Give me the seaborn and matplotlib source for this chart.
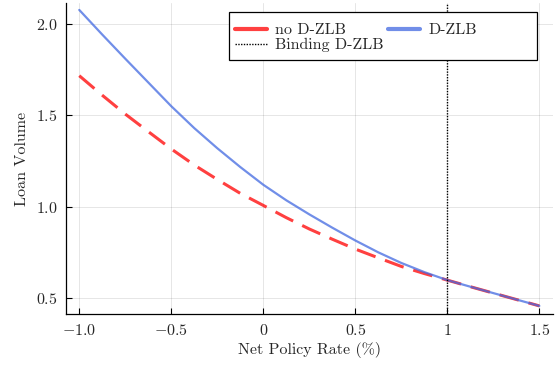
import numpy as np
import pandas as pd
import matplotlib
matplotlib.use("Agg")
import matplotlib.pyplot as plt
from matplotlib.lines import Line2D
from matplotlib.patches import Rectangle
import seaborn as sns

# Net policy rate grid (%)
rate = [-1.0, -0.875, -0.75, -0.625, -0.5, -0.375, -0.25, -0.125, 0.0,
        0.125, 0.25, 0.375, 0.5, 0.625, 0.75, 0.875, 1.0,
        1.125, 1.25, 1.375, 1.5]
# Loan volume without the deposit zero lower bound
loans_no_dzlb = [1.717, 1.610, 1.507, 1.411, 1.316, 1.228, 1.149, 1.073, 1.007,
                 0.940, 0.878, 0.822, 0.768, 0.720, 0.673, 0.634, 0.598,
                 0.562, 0.527, 0.492, 0.457]
# Loan volume with the deposit zero lower bound
loans_dzlb = [2.077, 1.942, 1.810, 1.680, 1.550, 1.430, 1.320, 1.217, 1.120,
              1.035, 0.958, 0.885, 0.815, 0.750, 0.692, 0.642, 0.598,
              0.562, 0.527, 0.492, 0.457]
# Rate at which the D-ZLB starts to bind
binding_rate = 1.0

x_ticks = [-1.0, -0.5, 0.0, 0.5, 1.0, 1.5]
x_tick_labels = ["$-1.0$", "$-0.5$", "$0$", "$0.5$", "$1$", "$1.5$"]
y_ticks = [0.5, 1.0, 1.5, 2.0]
y_tick_labels = ["$0.5$", "$1.0$", "$1.5$", "$2.0$"]

df_no = pd.DataFrame({"rate": rate, "loans": loans_no_dzlb})
df_d = pd.DataFrame({"rate": rate, "loans": loans_dzlb})

sns.set_theme(style="ticks")
plt.rcParams["font.family"] = ["cmr10", "DejaVu Sans"]
plt.rcParams["mathtext.fontset"] = "cm"
plt.rcParams["axes.unicode_minus"] = False

fs = 11.5

fig = plt.figure(figsize=(5.58, 3.65), dpi=100)
ax = fig.add_axes([0.1183, 0.1384, 0.8727, 0.8534])

red = "red"
blue = "royalblue"

sns.lineplot(data=df_no, x="rate", y="loans", ax=ax, color=red, alpha=0.75,
             linewidth=2.2, zorder=3)
ax.lines[-1].set_dashes((6.5, 3.3))
sns.lineplot(data=df_d, x="rate", y="loans", ax=ax, color=blue, alpha=0.75,
             linewidth=1.6, zorder=4)
ax.axvline(binding_rate, color="black", linewidth=1.0, linestyle=(0, (1.0, 1.0)), zorder=5)

ax.set_xlim(-1.072, 1.574)
ax.set_ylim(0.41, 2.115)
ax.set_xticks(x_ticks)
ax.set_xticklabels(x_tick_labels)
ax.set_yticks(y_ticks)
ax.set_yticklabels(y_tick_labels)
ax.tick_params(direction="in", length=4, width=0.8, color="black", labelsize=fs, pad=6)
ax.grid(True, color="black", alpha=0.1, linewidth=0.7)

for side in ("top", "right"):
    ax.spines[side].set_visible(False)
for side in ("left", "bottom"):
    ax.spines[side].set_color("black")
    ax.spines[side].set_linewidth(0.9)

ax.set_xlabel("Net Policy Rate (%)", fontsize=fs, labelpad=3)
ax.set_ylabel("Loan Volume", fontsize=fs, labelpad=5)

# Legend box with square corners
frame = Rectangle((0.3353, 0.817), 0.631, 0.155, transform=ax.transAxes,
                  facecolor="white", edgecolor="black", linewidth=0.9, zorder=8)
ax.add_patch(frame)
handles = [
    Line2D([], [], color=red, alpha=0.75, linewidth=3.0),
    Line2D([], [], color="black", linewidth=1.0, linestyle=(0, (1.0, 1.0))),
    Line2D([], [], color=blue, alpha=0.75, linewidth=3.0),
]
labels = ["no D-ZLB", "Binding D-ZLB", "D-ZLB"]
leg = ax.legend(handles, labels, ncol=2, loc="upper left",
                bbox_to_anchor=(0.3353, 0.953), borderaxespad=0, borderpad=0.35,
                frameon=False, fontsize=fs, handlelength=2.0, handletextpad=0.5,
                columnspacing=0.3, labelspacing=0.05)
leg.set_zorder(9)

fig.savefig("out.png", dpi=100)
